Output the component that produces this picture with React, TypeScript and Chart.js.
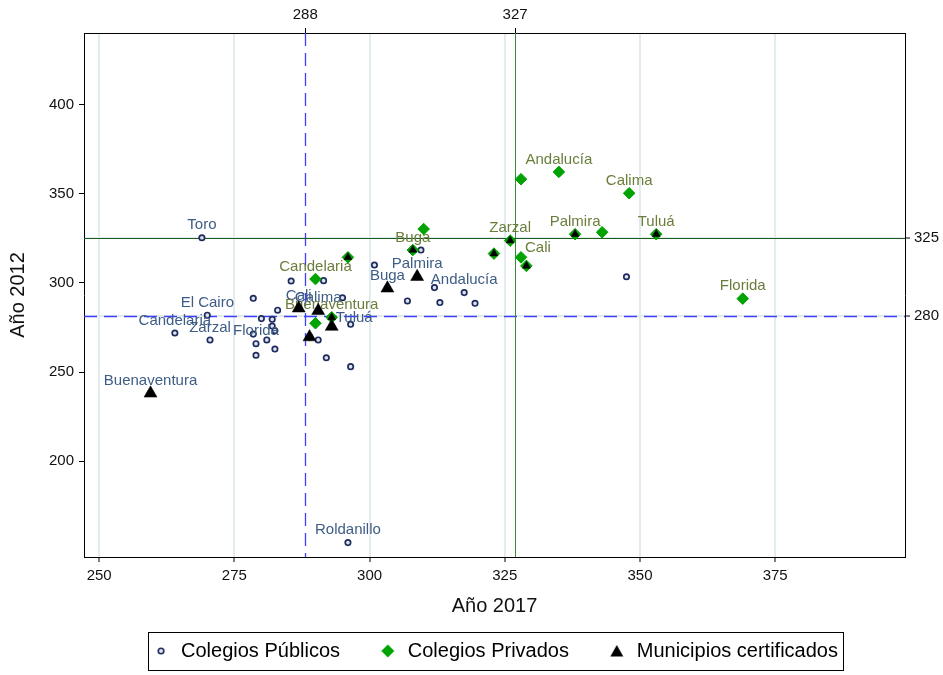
import React, { useEffect, useRef } from "react";
import { Chart, registerables } from "chart.js";

Chart.register(...registerables);

const FONT = "'Liberation Sans', Arial, Helvetica, sans-serif";

// ---------- data ----------
const seriesNames = ["Colegios Públicos", "Colegios Privados", "Municipios certificados"];

const publicX = [269.0, 300.9, 285.5, 291.5, 278.5, 295.0, 283.0, 270.0, 280.0, 282.0, 282.0, 282.5, 264.0, 270.5, 278.5, 281.0, 279.0, 282.5, 279.0, 290.5, 292.0, 296.5, 296.5, 309.5, 312.0, 317.5, 319.5, 307.0, 313.0, 347.5, 296.0, 259.5, 286.9, 290.5, 293.0, 303.3, 308.8, 288.9];
const publicY = [325.4, 310.1, 301.1, 301.3, 291.4, 291.7, 284.7, 281.9, 280.0, 279.6, 275.8, 273.2, 271.9, 268.0, 271.3, 268.0, 265.9, 262.9, 259.4, 268.0, 258.0, 253.0, 276.8, 318.5, 297.4, 294.6, 288.6, 289.9, 289.0, 303.5, 154.2, 238.0, 285.8, 284.4, 275.5, 297.0, 303.5, 269.6];
const publicNames = ["Toro", "", "", "", "", "", "", "El Cairo", "", "", "", "", "Candelaria", "Zarzal", "", "", "Florida", "", "", "", "", "", "", "", "", "Andalucía", "", "", "", "", "Roldanillo", "Buenaventura", "Cali", "Calima", "Tuluá", "Buga", "Palmira", ""];

const privateX = [290.0, 296.0, 293.0, 290.0, 308.0, 310.0, 323.0, 326.0, 328.0, 329.0, 328.0, 335.0, 348.0, 338.0, 343.0, 353.0, 369.0];
const privateY = [302.2, 314.4, 280.7, 277.4, 318.5, 330.3, 316.5, 323.8, 314.4, 309.6, 358.3, 362.4, 350.4, 327.4, 328.5, 327.4, 291.2];
const privateNames = ["Candelaria", "", "Buenaventura", "", "Buga", "", "", "Zarzal", "Cali", "", "", "Andalucía", "Calima", "Palmira", "", "Tuluá", "Florida"];

const certX = [259.5, 286.9, 290.5, 293.0, 288.9, 303.3, 308.8, 296.0, 293.0, 308.0, 323.0, 326.0, 329.0, 338.0, 353.0];
const certY = [238.0, 285.8, 284.4, 275.5, 269.6, 297.0, 303.5, 314.4, 280.7, 318.5, 316.5, 323.8, 309.6, 327.4, 327.4];

// labels placed to the upper right instead of above
const labelsRight = ["0:Tuluá", "1:Cali"];

const xRange = [247.2, 399];
const yRange = [146.1, 440.4];
const xTicks = [250, 275, 300, 325, 350, 375];
const yTicks = [200, 250, 300, 350, 400];
const xRefValues = [288.1, 326.9];
const xRefLabels = ["288", "327"];
const yRefValues = [281.7, 325.3];
const yRefLabels = ["280", "325"];
const xTitle = "Año 2017";
const yTitle = "Año 2012";

// ---------- styles ----------
const GRID = "rgba(226,236,239,1)";
const BLUE_LABEL = "#3d5d84";
const OLIVE_LABEL = "#6a7e3b";
const NAVY = "#1d2b5e";
const GREEN = "#00a300";
const legendTrail = ["     ", "     ", ""];

function makeMarker(kind: string): HTMLCanvasElement {
  const c = document.createElement("canvas");
  c.width = 16;
  c.height = 16;
  const g = c.getContext("2d")!;
  if (kind === "circle") {
    g.beginPath();
    g.arc(8, 8, 2.8, 0, Math.PI * 2);
    g.fillStyle = "#dfe3ee";
    g.fill();
    g.lineWidth = 1.6;
    g.strokeStyle = NAVY;
    g.stroke();
  } else if (kind === "diamond") {
    g.beginPath();
    g.moveTo(8, 1.5);
    g.lineTo(14.5, 8);
    g.lineTo(8, 14.5);
    g.lineTo(1.5, 8);
    g.closePath();
    g.fillStyle = GREEN;
    g.fill();
  } else {
    g.beginPath();
    g.moveTo(8, 2);
    g.lineTo(14.5, 13.5);
    g.lineTo(1.5, 13.5);
    g.closePath();
    g.fillStyle = "#000";
    g.fill();
  }
  return c;
}

const refLines = {
  id: "refLines",
  beforeDatasetsDraw(chart: any) {
    const { ctx, chartArea: a, scales } = chart;
    const sx = scales.x;
    const sy = scales.y;
    ctx.save();
    // blue dashed lines (first reference values)
    ctx.strokeStyle = "#3f3fff";
    ctx.lineWidth = 1.3;
    ctx.setLineDash([13, 7]);
    let px = Math.round(sx.getPixelForValue(xRefValues[0])) + 0.5;
    ctx.beginPath();
    ctx.moveTo(px, a.top);
    ctx.lineTo(px, a.bottom);
    ctx.stroke();
    let py = Math.round(sy.getPixelForValue(yRefValues[0])) + 0.5;
    ctx.beginPath();
    ctx.moveTo(a.left, py);
    ctx.lineTo(a.right, py);
    ctx.stroke();
    // green solid lines (second reference values)
    ctx.setLineDash([]);
    ctx.lineWidth = 1;
    ctx.strokeStyle = "#3a8a3a";
    px = Math.round(sx.getPixelForValue(xRefValues[1])) + 0.5;
    ctx.beginPath();
    ctx.moveTo(px, a.top);
    ctx.lineTo(px, a.bottom);
    ctx.stroke();
    ctx.strokeStyle = "#1f5c1f";
    py = Math.round(sy.getPixelForValue(yRefValues[1])) + 0.5;
    ctx.beginPath();
    ctx.moveTo(a.left, py);
    ctx.lineTo(a.right, py);
    ctx.stroke();
    ctx.restore();
  },
};

const pointLabels = {
  id: "pointLabels",
  afterDatasetDraw(chart: any, args: any) {
    const i = args.index;
    if (i !== 0 && i !== 1) return;
    const names = i === 0 ? publicNames : privateNames;
    const xs = i === 0 ? publicX : privateX;
    const ys = i === 0 ? publicY : privateY;
    const { ctx, scales } = chart;
    ctx.save();
    ctx.font = `15px ${FONT}`;
    ctx.fillStyle = i === 0 ? BLUE_LABEL : OLIVE_LABEL;
    ctx.textBaseline = "middle";
    names.forEach((n, k) => {
      if (!n) return;
      const px = scales.x.getPixelForValue(xs[k]);
      const py = scales.y.getPixelForValue(ys[k]);
      if (labelsRight.includes(i + ":" + n)) {
        ctx.textAlign = "left";
        ctx.fillText(n, px + 4, py - 9);
      } else {
        ctx.textAlign = "center";
        ctx.fillText(n, px, py - 12.5);
      }
    });
    ctx.restore();
  },
};

const legendFrame = {
  id: "legendFrame",
  afterLayout(chart: any) {
    const lg = chart.legend;
    const a = chart.chartArea;
    if (!lg) return;
    const d = (a.left + a.right) / 2 - (lg.left + lg.right) / 2;
    lg.left += d;
    lg.right += d;
  },
  afterDraw(chart: any) {
    const lg = chart.legend;
    if (!lg || !lg.lineWidths) return;
    const ctx = chart.ctx;
    const pad = lg.options.labels.padding;
    const lw = lg.lineWidths[0];
    const sx = (lg.left + pad + lg.right - lw) / 2;
    const ex = sx + lw - pad;
    const cy = lg.top + pad + 10;
    ctx.save();
    ctx.strokeStyle = "#000";
    ctx.lineWidth = 1;
    const l = Math.round(sx - 3) + 0.5;
    const t = Math.round(cy - 19) + 0.5;
    ctx.strokeRect(l, t, Math.round(ex + 5) - l + 0.5, 38);
    ctx.restore();
  },
};

export default function App() {
  const ref = useRef<HTMLCanvasElement>(null);

  useEffect(() => {
    const canvas = ref.current;
    if (!canvas) return;
    const markers = [makeMarker("circle"), makeMarker("diamond"), makeMarker("triangle")];
    const onDiamond = (k: number) =>
      privateX.some((px, j) => Math.abs(px - certX[k]) < 0.01 && Math.abs(privateY[j] - certY[k]) < 0.01);

    const tickFont = { family: FONT, size: 15 };
    const titleFont = { family: FONT, size: 20 };
    const chart = new Chart(canvas, {
      type: "scatter",
      data: {
        datasets: [
          {
            label: seriesNames[0],
            data: publicX.map((x, k) => ({ x, y: publicY[k] })),
            pointStyle: "circle",
            pointRadius: 2.7,
            borderWidth: 1.7,
            borderColor: NAVY,
            backgroundColor: "#dfe3ee",
            order: 3,
          },
          {
            label: seriesNames[1],
            data: privateX.map((x, k) => ({ x, y: privateY[k] })),
            pointStyle: "rectRot",
            pointRadius: 5.8,
            borderWidth: 1,
            borderColor: GREEN,
            backgroundColor: GREEN,
            order: 2,
          },
          {
            label: seriesNames[2],
            data: certX.map((x, k) => ({ x, y: certY[k] })),
            pointStyle: "triangle",
            pointRadius: (c: any) => (onDiamond(c.dataIndex) ? 4.6 : 7.5),
            borderWidth: 0.5,
            borderColor: "#000",
            backgroundColor: "#000",
            order: 1,
          },
        ],
      },
      options: {
        animation: false,
        responsive: false,
        devicePixelRatio: 1,
        events: [],
        layout: { padding: { bottom: 4 } },
        plugins: {
          tooltip: { enabled: false },
          legend: {
            position: "bottom",
            labels: {
              usePointStyle: true,
              boxWidth: 20,
              boxHeight: 20,
              padding: 10,
              color: "#000",
              font: { family: FONT, size: 20 },
              sort: (a: any, b: any) => a.datasetIndex - b.datasetIndex,
              generateLabels: (ch: any) => {
                const items = (Chart.defaults.plugins.legend.labels as any).generateLabels(ch);
                return items
                  .sort((a: any, b: any) => a.datasetIndex - b.datasetIndex)
                  .map((it: any) => ({
                    ...it,
                    text: seriesNames[it.datasetIndex] + legendTrail[it.datasetIndex],
                    pointStyle: markers[it.datasetIndex],
                    lineWidth: 0,
                  }));
              },
            },
          },
        },
        scales: {
          x: {
            type: "linear",
            position: "bottom",
            min: xRange[0],
            max: xRange[1],
            afterBuildTicks: (s: any) => {
              s.ticks = xTicks.map((v) => ({ value: v }));
            },
            afterFit: (s: any) => {
              s.height = 74;
            },
            grid: { color: GRID, lineWidth: 2, tickColor: "#000", tickWidth: 1, tickLength: 5 },
            border: { display: true, color: "#000", width: 1 },
            ticks: { font: tickFont, color: "#111", padding: 5, maxRotation: 0 },
            title: { display: true, text: xTitle, font: titleFont, color: "#111", padding: { top: 0, bottom: 13 } },
          },
          y: {
            type: "linear",
            position: "left",
            min: yRange[0],
            max: yRange[1],
            afterBuildTicks: (s: any) => {
              s.ticks = yTicks.map((v) => ({ value: v }));
            },
            afterFit: (s: any) => {
              s.width = 84;
            },
            grid: { drawOnChartArea: false, tickColor: "#000", tickWidth: 1, tickLength: 5 },
            border: { display: true, color: "#000", width: 1 },
            ticks: { font: tickFont, color: "#111", padding: 5 },
            title: { display: true, text: yTitle, font: titleFont, color: "#111", padding: { top: 6, bottom: 0 } },
          },
          x2: {
            type: "linear",
            position: "top",
            min: xRange[0],
            max: xRange[1],
            afterBuildTicks: (s: any) => {
              s.ticks = xRefValues.map((v) => ({ value: v }));
            },
            afterFit: (s: any) => {
              s.height = 33;
            },
            grid: { drawOnChartArea: false, tickColor: "#000", tickWidth: 1, tickLength: 5 },
            border: { display: true, color: "#000", width: 1 },
            ticks: {
              font: tickFont,
              color: "#111",
              padding: 4,
              maxRotation: 0,
              callback: (_v: any, i: number) => xRefLabels[i],
            },
          },
          y2: {
            type: "linear",
            position: "right",
            min: yRange[0],
            max: yRange[1],
            afterBuildTicks: (s: any) => {
              s.ticks = yRefValues.map((v) => ({ value: v }));
            },
            afterFit: (s: any) => {
              s.width = 38;
            },
            grid: { drawOnChartArea: true, color: GRID, lineWidth: 2, tickColor: "#000", tickWidth: 1, tickLength: 5 },
            border: { display: true, color: "#000", width: 1 },
            ticks: {
              font: tickFont,
              color: "#111",
              padding: 4,
              callback: (_v: any, i: number) => yRefLabels[i],
            },
          },
        },
      } as any,
      plugins: [refLines, pointLabels, legendFrame],
    });
    return () => chart.destroy();
  }, []);

  return (
    <div style={{ position: "fixed", left: 0, top: 0, width: 943, height: 675, background: "#fff" }}>
      <canvas ref={ref} width={943} height={675} style={{ display: "block" }} />
    </div>
  );
}
